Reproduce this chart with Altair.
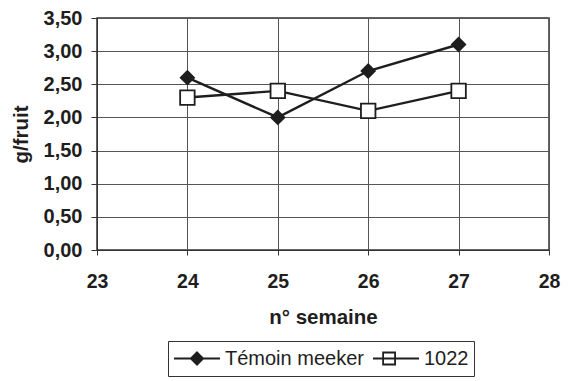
import altair as alt
import pandas as pd

weeks = [24, 25, 26, 27]
temoin = [2.6, 2.0, 2.7, 3.1]
s1022 = [2.3, 2.4, 2.1, 2.4]
series_names = ["Témoin meeker", "1022"]
x_ticks = [23, 24, 25, 26, 27, 28]
y_ticks = [0, 0.5, 1.0, 1.5, 2.0, 2.5, 3.0, 3.5]

df = pd.DataFrame({
    "week": weeks * 2,
    "value": temoin + s1022,
    "series": [series_names[0]] * len(weeks) + [series_names[1]] * len(weeks),
})

FONT = "Liberation Sans"
INK = "#1e1e1e"

x_enc = alt.X("week:Q", scale=alt.Scale(domain=[23, 28], nice=False),
              axis=alt.Axis(values=x_ticks, title="n° semaine", format="d",
                            labelFontSize=19.5, labelFontWeight="bold", labelFont=FONT,
                            labelColor=INK, labelPadding=17, tickSize=5,
                            labelOverlap=False, labelFlush=False,
                            titleFontSize=20.5, titleFont=FONT, titleFontWeight="bold",
                            titleColor=INK, titlePadding=17,
                            gridColor="#555", domainColor="#333", tickColor="#333"))
y_enc = alt.Y("value:Q", scale=alt.Scale(domain=[0, 3.5], nice=False),
              axis=alt.Axis(values=y_ticks, title="g/fruit",
                            labelExpr="replace(format(datum.value, '.2f'), '.', ',')",
                            labelFontSize=20, labelFontWeight="bold", labelFont=FONT,
                            labelColor=INK, labelPadding=9, tickSize=6,
                            labelOverlap=False, labelFlush=False,
                            titleFontSize=20.5, titleFont=FONT, titleFontWeight="bold",
                            titleColor=INK, titlePadding=12,
                            gridColor="#555", domainColor="#333", tickColor="#333"))

base = alt.Chart(df)

lines = base.mark_line(color=INK, strokeWidth=2.4).encode(x=x_enc, y=y_enc, detail="series:N")

diamonds = base.transform_filter(alt.datum.series == series_names[0]).mark_point(
    shape="diamond", filled=True, fill=INK, stroke=INK, opacity=1, size=170
).encode(x=x_enc, y=y_enc)

squares = base.transform_filter(alt.datum.series == series_names[1]).mark_point(
    shape="square", filled=True, fill="white", stroke=INK, strokeWidth=1.8, opacity=1, size=210
).encode(x=x_enc, y=y_enc)

# legend glyphs: line + marker, in symbol units (symbol is 46px wide -> 1 unit = 23px)
leg_paths = [
    "M-1,0L1,0M0,-0.27L0.27,0L0,0.27L-0.27,0Z",
    "M-1,0L1,0M-0.56,-0.26L-0.04,-0.26L-0.04,0.26L-0.56,0.26Z",
]

leg_common = dict(title=None, orient="none", legendX=71, legendY=323,
                  direction="horizontal")

legend_layer = base.transform_filter("datum.week > 100").mark_point(
    filled=True, strokeWidth=1.8, opacity=1, size=2116
).encode(
    x=x_enc, y=y_enc,
    shape=alt.Shape("series:N", scale=alt.Scale(domain=series_names, range=leg_paths),
                    legend=alt.Legend(**leg_common, strokeColor="#333",
                                      padding=5, labelFont=FONT, labelFontSize=20,
                                      labelColor=INK, labelOffset=4, columnPadding=8,
                                      symbolStrokeWidth=1.8, symbolSize=2116,
                                      symbolOpacity=1, clipHeight=25)),
    fill=alt.Fill("series:N", scale=alt.Scale(domain=series_names, range=[INK, "white"]),
                  legend=alt.Legend(**leg_common)),
    stroke=alt.Stroke("series:N", scale=alt.Scale(domain=series_names, range=[INK, INK]),
                      legend=alt.Legend(**leg_common)),
)

chart = alt.layer(lines, diamonds, squares, legend_layer).properties(
    width=452, height=232,
    autosize=alt.AutoSizeParams(type="none"),
    padding={"left": 89, "top": 10, "right": 12, "bottom": 130},
).configure_view(stroke="#333", strokeWidth=1.5).configure_axis(gridWidth=1)

chart.save("out.html", embed_options={"renderer": "svg", "actions": False})
